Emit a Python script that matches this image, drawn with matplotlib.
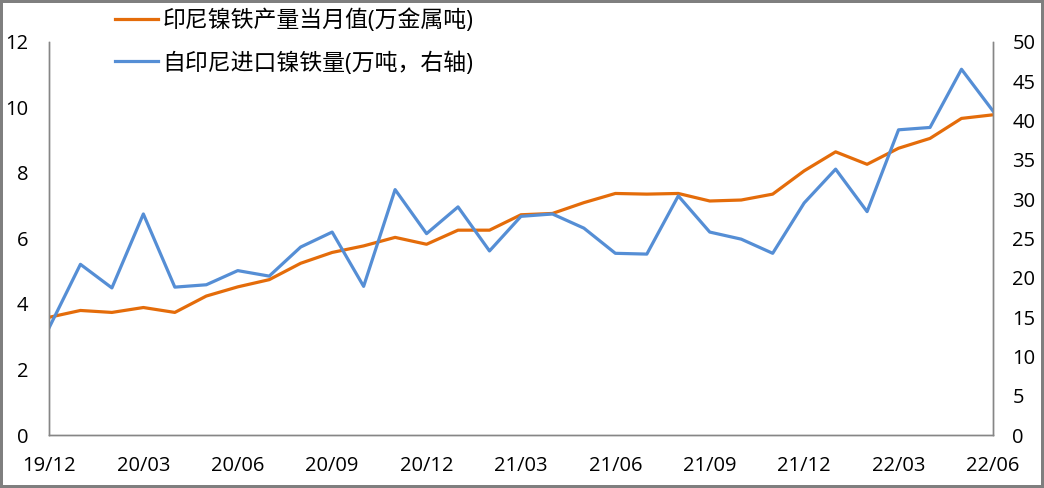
import matplotlib
matplotlib.use("Agg")
import matplotlib.pyplot as plt

plt.rcParams['font.family'] = ['Open Sans', 'Noto Sans CJK SC', 'DejaVu Sans']

months = ["19/12", "20/01", "20/02", "20/03", "20/04", "20/05", "20/06", "20/07",
          "20/08", "20/09", "20/10", "20/11", "20/12", "21/01", "21/02", "21/03",
          "21/04", "21/05", "21/06", "21/07", "21/08", "21/09", "21/10", "21/11",
          "21/12", "22/01", "22/02", "22/03", "22/04", "22/05", "22/06"]

# 印尼镍铁产量当月值 (万金属吨), left axis
output = [3.59, 3.80, 3.74, 3.89, 3.74, 4.24, 4.52, 4.74, 5.24, 5.57, 5.77, 6.03,
          5.82, 6.25, 6.25, 6.72, 6.76, 7.09, 7.37, 7.35, 7.37, 7.14, 7.17, 7.35,
          8.06, 8.64, 8.26, 8.75, 9.05, 9.66, 9.77]

# 自印尼进口镍铁量 (万吨), right axis
imports = [13.6, 21.7, 18.7, 28.1, 18.8, 19.1, 20.9, 20.2, 23.9, 25.8, 18.9, 31.2,
           25.6, 29.0, 23.4, 27.8, 28.1, 26.3, 23.1, 23.0, 30.4, 25.8, 24.9, 23.1,
           29.5, 33.8, 28.4, 38.8, 39.1, 46.5, 41.2]

orange = "#E46C0A"
blue = "#558ED5"
grey = "#868686"

fig = plt.figure(figsize=(10.44, 4.88), dpi=100, edgecolor="#7f7f7f", linewidth=3)
ax = fig.add_axes([0.0469, 0.1086, 0.9042, 0.8059])
ax2 = ax.twinx()

x = list(range(len(months)))
l1, = ax.plot(x, output, color=orange, lw=2.3, label="印尼镍铁产量当月值(万金属吨)")
l2, = ax2.plot(x, imports, color=blue, lw=2.3, label="自印尼进口镍铁量(万吨，右轴)")

ax.set_xlim(0, 30)
ax.set_ylim(0, 12)
ax2.set_ylim(0, 50)
ax.set_yticks(range(0, 13, 2))
ax2.set_yticks(range(0, 51, 5))
ax.set_xticks(x[::3])
ax.set_xticklabels(months[::3])

for a in (ax, ax2):
    for s in a.spines.values():
        s.set_color(grey)
        s.set_linewidth(1)
    a.spines["top"].set_visible(False)
ax.tick_params(axis="y", length=0, pad=15, labelsize=14.5)
ax2.tick_params(axis="y", length=0, pad=14, labelsize=14.5)
ax.tick_params(axis="x", length=0, pad=15, labelsize=14.5)

fig.legend(handles=[l1, l2], loc="upper left", bbox_to_anchor=(0.1015, 1.0),
           frameon=False, fontsize=16.5, handlelength=1.85, handletextpad=0.22,
           labelspacing=0.8, borderaxespad=0)

fig.savefig("out.png", dpi=100)
